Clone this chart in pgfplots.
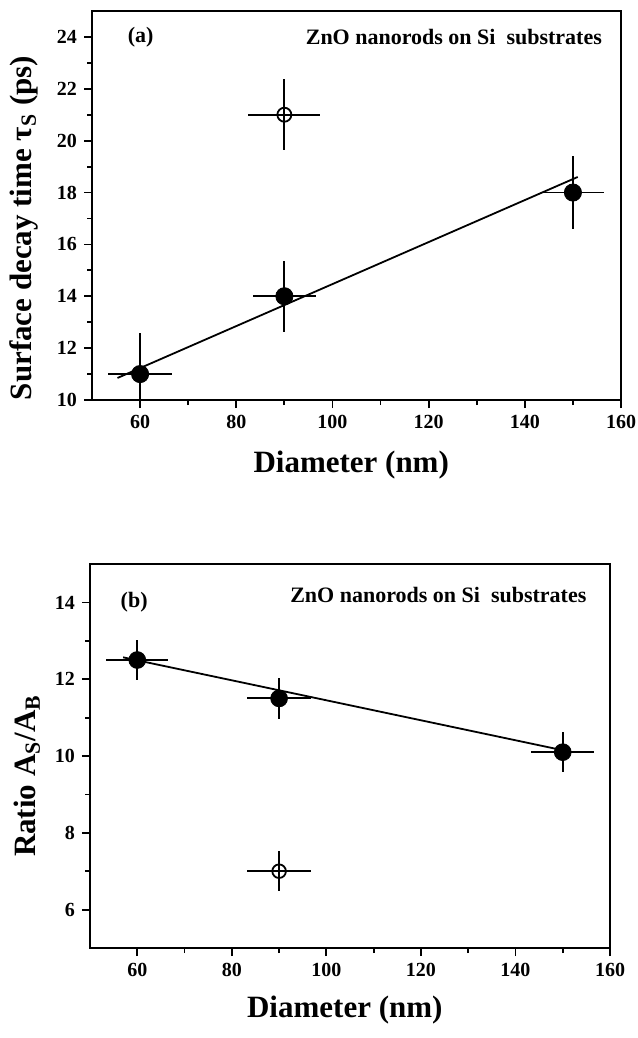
\documentclass[border=0pt]{standalone}
\usepackage{pgfplots}
\pgfplotsset{compat=1.18}
\usepackage{fontspec}
\setmainfont{Liberation Serif}
\begin{document}
\begin{tikzpicture}
\path[use as bounding box] (0,0) rectangle (318.5pt,-519pt);
\pgfplotsset{
  myaxis/.style={
    scale only axis,
    anchor=south west,
    xmin=50, xmax=160,
    xtick={60,80,...,160},
    minor x tick num=1,
    minor y tick num=1,
    tick pos=left,
    tick align=outside,
    major tick length=4pt,
    minor tick length=2.5pt,
    axis line style={line width=1.2pt},
    every tick/.style={line width=0.9pt, black},
    tick label style={font=\fontsize{10}{12}\selectfont\bfseries},
    /pgf/number format/assume math mode=true,
    label style={font=\fontsize{15.5}{18}\selectfont\bfseries},
    clip=true,
  },
  errs/.style={
    only marks,
    error bars/x dir=both, error bars/x explicit,
    error bars/y dir=both, error bars/y explicit,
    error bars/error mark=none,
    error bars/error bar style={line width=0.95pt, black},
  },
}
% ---------- panel (a)
\begin{axis}[myaxis,
  at={(46pt,-200pt)}, width=264.5pt, height=194.5pt,
  ymin=10, ymax=25, ytick={10,12,...,24},
  xlabel={Diameter (nm)},
  xlabel style={at={(axis description cs:0.49,-0.167)}, anchor=center},
  ylabel={Surface decay time τ\textsubscript{S} (ps)},
  ylabel style={at={(axis description cs:-0.129,0.442)}, anchor=center},
]
\addplot[black, line width=0.9pt] coordinates {(55.3,10.85) (151,18.6)};
\addplot[errs, mark=*, mark size=4.3pt, mark options={fill=black, draw=black}]
  table[x=x, y=y, x error=ex, y error=ey] {
x y ex ey
60 11 6.7 1.57
90 14 6.6 1.37
150 18 6.5 1.4
};
\addplot[errs, mark=o, mark size=3.5pt, mark options={draw=black, line width=0.9pt}]
  table[x=x, y=y, x error=ex, y error=ey] {
x y ex ey
90 21 7.5 1.37
};
\node[anchor=west, font=\fontsize{11}{13}\selectfont\bfseries] at (axis cs:56,24) {(a)};
\node[anchor=east, font=\fontsize{11}{13}\selectfont\bfseries] at (axis cs:157.5,24) {ZnO nanorods on Si\ \ substrates};
\end{axis}
% ---------- panel (b)
\begin{axis}[myaxis,
  at={(45pt,-474pt)}, width=260pt, height=192pt,
  ymin=5, ymax=15, ytick={6,8,...,14},
  xlabel={Diameter (nm)},
  xlabel style={at={(axis description cs:0.49,-0.161)}, anchor=center},
  ylabel={Ratio A\textsubscript{S}/A\textsubscript{B}},
  ylabel style={at={(axis description cs:-0.121,0.448)}, anchor=center},
]
\addplot[black, line width=0.9pt] coordinates {(57,12.57) (150,10.15)};
\addplot[errs, mark=*, mark size=4.2pt, mark options={fill=black, draw=black}]
  table[x=x, y=y, x error=ex, y error=ey] {
x y ex ey
60 12.5 6.6 0.52
90 11.5 6.7 0.53
150 10.1 6.7 0.52
};
\addplot[errs, mark=o, mark size=3.4pt, mark options={draw=black, line width=0.9pt}]
  table[x=x, y=y, x error=ex, y error=ey] {
x y ex ey
90 7 6.7 0.52
};
\node[anchor=west, font=\fontsize{11}{13}\selectfont\bfseries] at (axis cs:55,14) {(b)};
\node[anchor=east, font=\fontsize{11}{13}\selectfont\bfseries] at (axis cs:156.5,14.2) {ZnO nanorods on Si\ \ substrates};
\end{axis}
\end{tikzpicture}
\end{document}
